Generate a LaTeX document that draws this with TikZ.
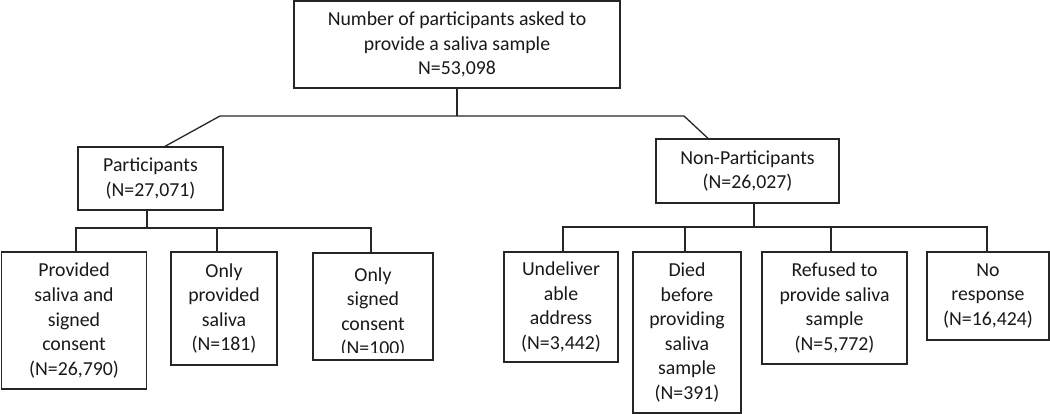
\documentclass[tikz,border=0pt]{standalone}
\usepackage{fontspec}
\setmainfont{Carlito}
\usetikzlibrary{calc}
\begin{document}
\begin{tikzpicture}[x=1pt,y=-1pt,
  box/.style={draw=black!85, line width=1.3pt, fill=white, align=center, inner sep=0pt,
    text=black!90, font=\fontsize{19.8}{24.6}\selectfont},
  conn/.style={draw=black!85, line width=1.3pt}]
\useasboundingbox (0,0) rectangle (1050,414);
% boxes
\node[box, minimum width=326, minimum height=87] (top) at (457,44.5)
  {Number of participants asked to\\provide a saliva sample\\N=53,098};
\node[box, minimum width=145, minimum height=63] (part) at (150.5,178.5)
  {Participants\\(N=27,071)};
\node[box, minimum width=183, minimum height=64] (nonp) at (747.5,171)
  {Non-Participants\\(N=26,027)};
\node[box, minimum width=145, minimum height=137] (b1) at (74,320.5)
  {Provided\\saliva and\\signed\\consent\\(N=26,790)};
\node[box, minimum width=106, minimum height=113] (b2) at (224,308.5)
  {Only\\provided\\saliva\\(N=181)};
\node[box, minimum width=120, minimum height=107] (b3) at (373,306.5) {};
\begin{scope}
  \clip (313,253) rectangle (433,352);
  \node[box, draw=none, fill=none] (b3t) at (373,312.5) {Only\\signed\\consent\\(N=100)};
\end{scope}
\node[box, minimum width=114, minimum height=110] (u) at (561,307)
  {Undeliver\\able\\address\\(N=3,442)};
\node[box, minimum width=108, minimum height=161] (d) at (687,332.5)
  {Died\\before\\providing\\saliva\\sample\\(N=391)};
\node[box, minimum width=145, minimum height=112] (r) at (834.5,308)
  {Refused to\\provide saliva\\sample\\(N=5,772)};
\node[box, minimum width=122, minimum height=88] (nr) at (988,296)
  {No\\response\\(N=16,424)};
% junction coordinates
\coordinate (j0) at (457,116);
\coordinate (jl) at (220,116);
\coordinate (jr) at (684,116);
\coordinate (pl) at (76,228);
\coordinate (pr) at (371,228);
\coordinate (nl) at (563,227);
\coordinate (nr2) at (987,227);
% connectors
\draw[conn] (top.south) -- (j0);
\draw[conn] ([xshift=14.5]part.north) -- (jl) -- (jr) -- ([xshift=-39.5]nonp.north);
\draw[conn] ([xshift=-3.5]part.south) -- ([xshift=-3.5]part.south |- pl);
\draw[conn] ([xshift=2]b1.north) -- (pl) -- (pr) -- ([xshift=-2]b3.north);
\draw[conn] ([xshift=-7]b2.north) -- ([xshift=-7]b2.north |- pl);
\draw[conn] ([xshift=6.5]nonp.south) -- ([xshift=6.5]nonp.south |- nl);
\draw[conn] ([xshift=2]u.north) -- (nl) -- (nr2) -- ([xshift=-1]nr.north);
\draw[conn] ([xshift=-2]d.north) -- ([xshift=-2]d.north |- nl);
\draw[conn] ([xshift=-3.5]r.north) -- ([xshift=-3.5]r.north |- nl);
\end{tikzpicture}
\end{document}
